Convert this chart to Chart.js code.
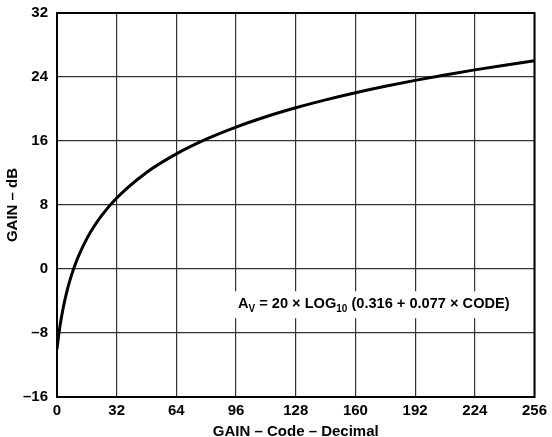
<!DOCTYPE html>
<html>
<head>
<meta charset="utf-8">
<script src="https://cdn.jsdelivr.net/npm/chart.js@4.4.1/dist/chart.umd.min.js"></script>
<style>
  html, body { margin: 0; padding: 0; background: #fff; }
  #wrap { width: 552px; height: 437px; }
</style>
</head>
<body>
<div id="wrap"><canvas id="gainChart"></canvas></div>
<script>
// gain curve
const codes = [0, 1, 2, 3, 4, 6, 8, 10, 12, 16, 20, 24, 32, 48, 64, 80, 96, 112, 128, 144, 160, 176, 192, 208, 224, 240, 256];
const gainDb = [-10.0, -8.1, -6.56, -5.24, -4.1, -2.18, -0.61, 0.72, 1.87, 3.8, 5.37, 6.71, 8.88, 12.07, 14.39, 16.23, 17.74, 19.03, 20.15, 21.14, 22.03, 22.84, 23.58, 24.26, 24.89, 25.48, 26.03];

const xTicks = [0, 32, 64, 96, 128, 160, 192, 224, 256];
const yTicks = [-16, -8, 0, 8, 16, 24, 32];

const FONT = "'Liberation Sans', Arial, sans-serif";

// border round the plot area
const frame = {
    id: "frame",
    afterDatasetsDraw(chart) {
        const { ctx, chartArea: a } = chart;
        ctx.save();
        ctx.strokeStyle = "#000";
        ctx.lineWidth = 2;
        ctx.strokeRect(a.left, a.top, a.right - a.left, a.bottom - a.top);
        ctx.restore();
    }
};

// formula label with white backing
const formula = {
    id: "formula",
    afterDatasetsDraw(chart) {
        const { ctx, scales } = chart;
        const x0 = scales.x.getPixelForValue(97);
        const y0 = scales.y.getPixelForValue(-4.4);
        const big = "bold 14.6px " + FONT;
        const small = "bold 10px " + FONT;
        const parts = [
            ["A", big, 0], ["V", small, 5], [" = 20 \u00d7 LOG", big, 0],
            ["10", small, 5], [" (0.316 + 0.077 \u00d7 CODE)", big, 0]
        ];
        ctx.save();
        let w = 0;
        parts.forEach(p => { ctx.font = p[1]; w += ctx.measureText(p[0]).width; });
        ctx.fillStyle = "#fff";
        ctx.fillRect(x0 - 5, y0 - 13, w + 10, 27);
        ctx.fillStyle = "#000";
        ctx.textBaseline = "middle";
        let x = x0;
        parts.forEach(p => {
            ctx.font = p[1];
            ctx.fillText(p[0], x, y0 + p[2]);
            x += ctx.measureText(p[0]).width;
        });
        ctx.restore();
    }
};

new Chart(document.getElementById("gainChart"), {
    type: "scatter",
    data: {
        datasets: [{
            data: codes.map((c, i) => ({ x: c, y: gainDb[i] })),
            showLine: true,
            borderColor: "#000",
            borderWidth: 3,
            pointRadius: 0,
            cubicInterpolationMode: "monotone",
            fill: false
        }]
    },
    options: {
        responsive: true,
        maintainAspectRatio: false,
        animation: false,
        layout: { padding: { top: 13, right: 17, left: 0, bottom: 0 } },
        plugins: { legend: { display: false }, tooltip: { enabled: false } },
        scales: {
            x: {
                type: "linear",
                min: 0, max: 256,
                afterBuildTicks: s => { s.ticks = xTicks.map(v => ({ value: v })); },
                afterFit: s => { s.height = 40; },
                grid: { color: "#333", lineWidth: 1.2, drawTicks: false },
                border: { display: false },
                ticks: {
                    color: "#000", padding: 5,
                    font: { family: FONT, size: 15, weight: "bold" }
                },
                title: {
                    display: true, text: "GAIN \u2013 Code \u2013 Decimal", color: "#000",
                    font: { family: FONT, size: 15, weight: "bold" }, padding: { top: 4, bottom: -4 }
                }
            },
            y: {
                min: -16, max: 32,
                afterBuildTicks: s => { s.ticks = yTicks.map(v => ({ value: v })); },
                afterFit: s => { s.width = 57; s.paddingTop = 0; s.paddingBottom = 0; },
                grid: { color: "#333", lineWidth: 1.2, drawTicks: false },
                border: { display: false },
                ticks: {
                    color: "#000", padding: 9,
                    font: { family: FONT, size: 15, weight: "bold" },
                    callback: v => String(v).replace("-", "\u2013")
                },
                title: {
                    display: true, text: "GAIN \u2013 dB", color: "#000",
                    font: { family: FONT, size: 15, weight: "bold" }, padding: { top: 4, bottom: 0 }
                }
            }
        }
    },
    plugins: [frame, formula]
});
</script>
</body>
</html>
